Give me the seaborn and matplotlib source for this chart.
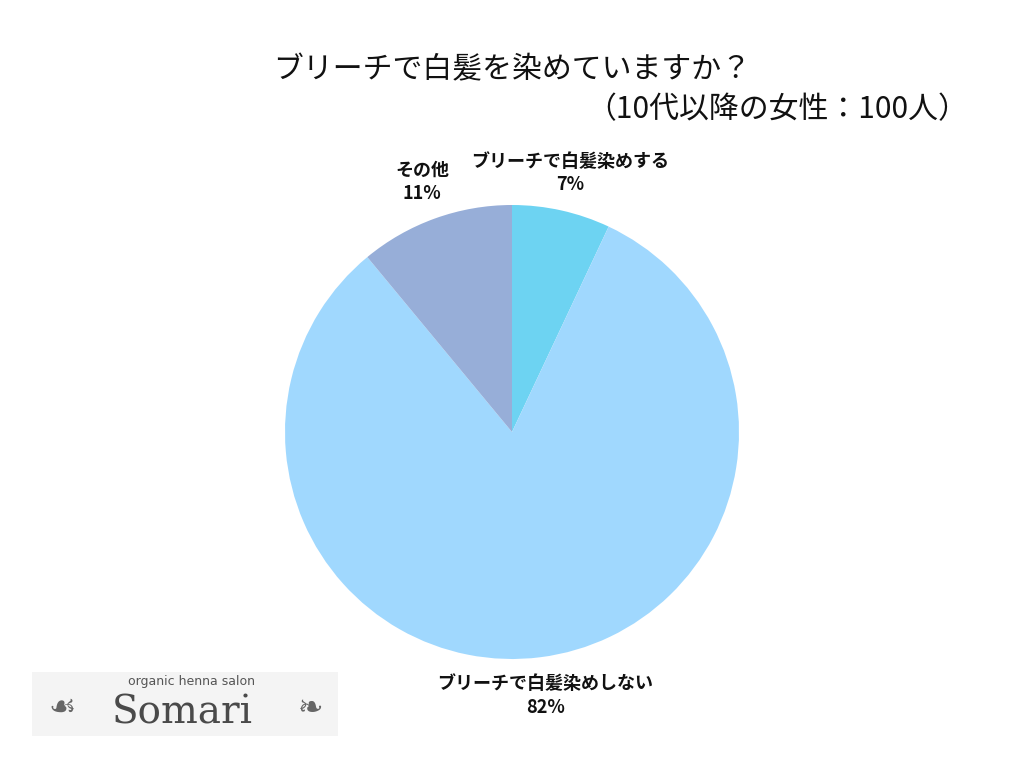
import matplotlib
matplotlib.use("Agg")
import matplotlib.pyplot as plt
import seaborn as sns
from matplotlib.patches import Rectangle

sns.set_theme(style="white")
plt.rcParams["font.family"] = ["Noto Sans CJK JP", "DejaVu Sans"]

labels = ["ブリーチで白髪染めする", "ブリーチで白髪染めしない", "その他"]
shares = [7, 82, 11]
colors = ["#6dd3f2", "#a0d8fe", "#97aed8"]

title = "ブリーチで白髪を染めていますか？"
subtitle = "（10代以降の女性：100人）"

W, H = 1024, 768
fig = plt.figure(figsize=(W / 100, H / 100), dpi=100)
fig.patch.set_facecolor("white")

cx, cy, r = 512, 432, 227
ax = fig.add_axes([(cx - r) / W, (H - cy - r) / H, 2 * r / W, 2 * r / H])

wedges, texts = ax.pie(
    shares,
    labels=[f"{lab}\n{v}%" for lab, v in zip(labels, shares)],
    colors=colors,
    startangle=90,
    counterclock=False,
    labeldistance=1.17,
    radius=1,
    wedgeprops={"linewidth": 0},
)
for t in texts:
    t.set_ha("center")
    t.set_va("center")
    t.set_fontsize(13)
    t.set_fontweight("bold")
    t.set_color("#111111")
    t.set_linespacing(1.3)
ax.set_xlim(-1, 1)
ax.set_ylim(-1, 1)
ax.set_aspect("equal")

fig.text(512 / W, 1 - 70 / H, title, ha="center", va="center",
         fontsize=21.5, color="#111111")
fig.text(968 / W, 1 - 110 / H, subtitle, ha="right", va="center",
         fontsize=21.5, color="#111111")

# logo block
fig.patches.append(Rectangle((32 / W, 1 - 736 / H), 306 / W, 64 / H,
                             transform=fig.transFigure, facecolor="#f4f4f4",
                             edgecolor="none", zorder=0))
fig.text(192 / W, 1 - 682 / H, "organic henna salon", ha="center", va="center",
         fontsize=9, color="#555555", family=["DejaVu Sans"])
fig.text(182 / W, 1 - 713 / H, "Somari", ha="center", va="center",
         fontsize=28, color="#4a4a4a", family=["DejaVu Serif"])
fig.text(62 / W, 1 - 708 / H, "☙", ha="center", va="center",
         fontsize=22, color="#666666", family=["DejaVu Sans"])
fig.text(310 / W, 1 - 708 / H, "❧", ha="center", va="center",
         fontsize=22, color="#666666", family=["DejaVu Sans"])

fig.savefig("out.png", dpi=100, facecolor="white")
